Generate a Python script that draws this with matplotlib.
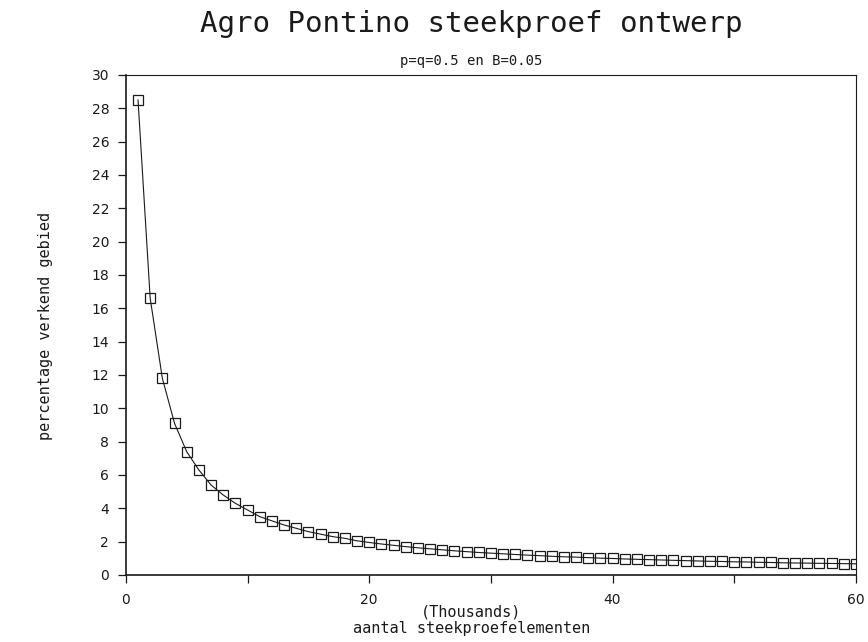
import matplotlib

matplotlib.use("Agg")
import matplotlib.pyplot as plt

# steekproefgrootte (duizenden) en percentage verkend gebied
n_thousands = list(range(1, 61))
percentage = [
    28.5, 16.6, 11.8, 9.1, 7.4, 6.3, 5.4, 4.8, 4.3, 3.9,
    3.5, 3.25, 3.0, 2.8, 2.6, 2.45, 2.3, 2.2, 2.05, 1.95,
    1.86, 1.78, 1.7, 1.63, 1.57, 1.51, 1.45, 1.4, 1.35, 1.31,
    1.27, 1.23, 1.19, 1.16, 1.12, 1.09, 1.07, 1.04, 1.01, 0.99,
    0.96, 0.94, 0.92, 0.9, 0.88, 0.86, 0.84, 0.82, 0.81, 0.79,
    0.78, 0.76, 0.75, 0.73, 0.72, 0.71, 0.7, 0.69, 0.68, 0.67,
]
x_ticks = [0, 10, 20, 30, 40, 50, 60]
x_tick_labels = ["0", "", "20", "", "40", "", "60"]
y_ticks = list(range(0, 31, 2))

title = "Agro Pontino steekproef ontwerp"
subtitle = "p=q=0.5 en B=0.05"
x_unit = "(Thousands)"
x_label = "aantal steekproefelementen"
y_label = "percentage verkend gebied"

MONO = "DejaVu Sans Mono"
INK = "#1a1a1a"

fig = plt.figure(figsize=(8.68, 6.42), dpi=100)
ax = fig.add_axes([0.145, 0.1044, 0.841, 0.7788])

ax.plot(n_thousands, percentage, color=INK, linewidth=0.8,
        marker="s", markersize=6.5, markerfacecolor="none",
        markeredgecolor=INK, markeredgewidth=0.9)

ax.set_xlim(0, 60)
ax.set_ylim(0, 30)
ax.set_xticks(x_ticks)
ax.set_xticklabels(x_tick_labels)
ax.set_yticks(y_ticks)
ax.tick_params(direction="out", length=6, width=0.9, labelsize=10, colors=INK)
ax.tick_params(axis="x", pad=7)
ax.tick_params(axis="y", pad=6)

for side in ("left", "bottom"):
    ax.spines[side].set_linewidth(1.2)
    ax.spines[side].set_color(INK)
for side in ("top", "right"):
    ax.spines[side].set_linewidth(0.8)
    ax.spines[side].set_color(INK)

cx = 0.543
fig.text(cx, 0.962, title, ha="center", va="center", fontsize=21, family=MONO, color=INK)
fig.text(cx, 0.905, subtitle, ha="center", va="center", fontsize=10, family=MONO, color=INK)
fig.text(cx, 0.047, x_unit, ha="center", va="center", fontsize=11, family=MONO, color=INK)
fig.text(cx, 0.021, x_label, ha="center", va="center", fontsize=11, family=MONO, color=INK)
fig.text(0.052, 0.493, y_label, ha="center", va="center", rotation=90,
         fontsize=11, family=MONO, color=INK)

fig.savefig("out.png", dpi=100)
plt.close(fig)
